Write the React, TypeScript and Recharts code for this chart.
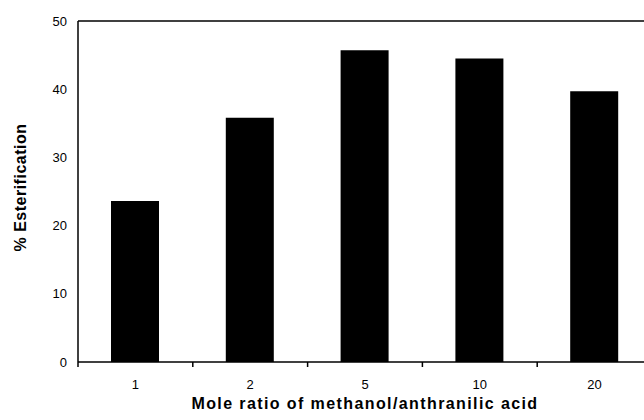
import { Bar, BarChart, ReferenceLine, XAxis, YAxis } from "recharts";

const ratios = ["1", "2", "5", "10", "20"];
const esterification = [23.6, 35.8, 45.7, 44.5, 39.7];
const yTicks = [0, 10, 20, 30, 40, 50];

const data = ratios.map((ratio, i) => ({ ratio, value: esterification[i] }));

const FONT = "Arial, 'Liberation Sans', sans-serif";
const TICK_SIZE = 5;
const TICK_MARGIN = 13;

// category label in the middle, tick mark on the band boundary
function BoundaryTick(props: any) {
  const { x, y, payload } = props;
  const half = payload && payload.offset ? payload.offset : 57.4;
  const axisY = y - TICK_MARGIN - TICK_SIZE;
  return (
    <g>
      <line
        x1={x - half}
        x2={x - half}
        y1={axisY}
        y2={axisY + TICK_SIZE}
        stroke="#000"
        strokeWidth={1.5}
      />
      <text
        x={x}
        y={y}
        dy="0.71em"
        textAnchor="middle"
        fontSize={13}
        fontFamily={FONT}
        fill="#000"
      >
        {payload.value}
      </text>
    </g>
  );
}

export default function App() {
  return (
    <div
      style={{
        position: "absolute",
        left: 0,
        top: 0,
        width: 644,
        height: 420,
        overflow: "hidden",
        background: "#fff",
      }}
    >
      <BarChart
        width={660}
        height={420}
        data={data}
        margin={{ top: 21, right: 8, bottom: 0, left: 0 }}
      >
        <XAxis
          dataKey="ratio"
          height={58}
          axisLine={{ stroke: "#000", strokeWidth: 1.5 }}
          tickLine={false}
          tickSize={TICK_SIZE}
          tickMargin={TICK_MARGIN}
          tick={<BoundaryTick />}
          label={{
            value: "Mole ratio of methanol/anthranilic acid",
            position: "insideBottom",
            offset: 11,
            style: {
              fontFamily: FONT,
              fontSize: 16,
              fontWeight: "bold",
              letterSpacing: 1.4,
              fill: "#000",
            },
          }}
        />
        <YAxis
          width={78}
          domain={[0, 50]}
          ticks={yTicks}
          axisLine={{ stroke: "#000", strokeWidth: 1.5 }}
          tickLine={false}
          tickSize={6}
          tickMargin={5}
          tick={{ fontSize: 13, fontFamily: FONT, fill: "#000" }}
          label={{
            value: "% Esterification",
            angle: -90,
            position: "insideLeft",
            offset: 20,
            dy: -4,
            style: {
              textAnchor: "middle",
              fontFamily: FONT,
              fontSize: 16,
              fontWeight: "bold",
              letterSpacing: 0.5,
              fill: "#000",
            },
          }}
        />
        <ReferenceLine y={50} stroke="#000" strokeWidth={1.5} />
        <Bar dataKey="value" fill="#000" barSize={48} isAnimationActive={false} />
      </BarChart>
    </div>
  );
}
